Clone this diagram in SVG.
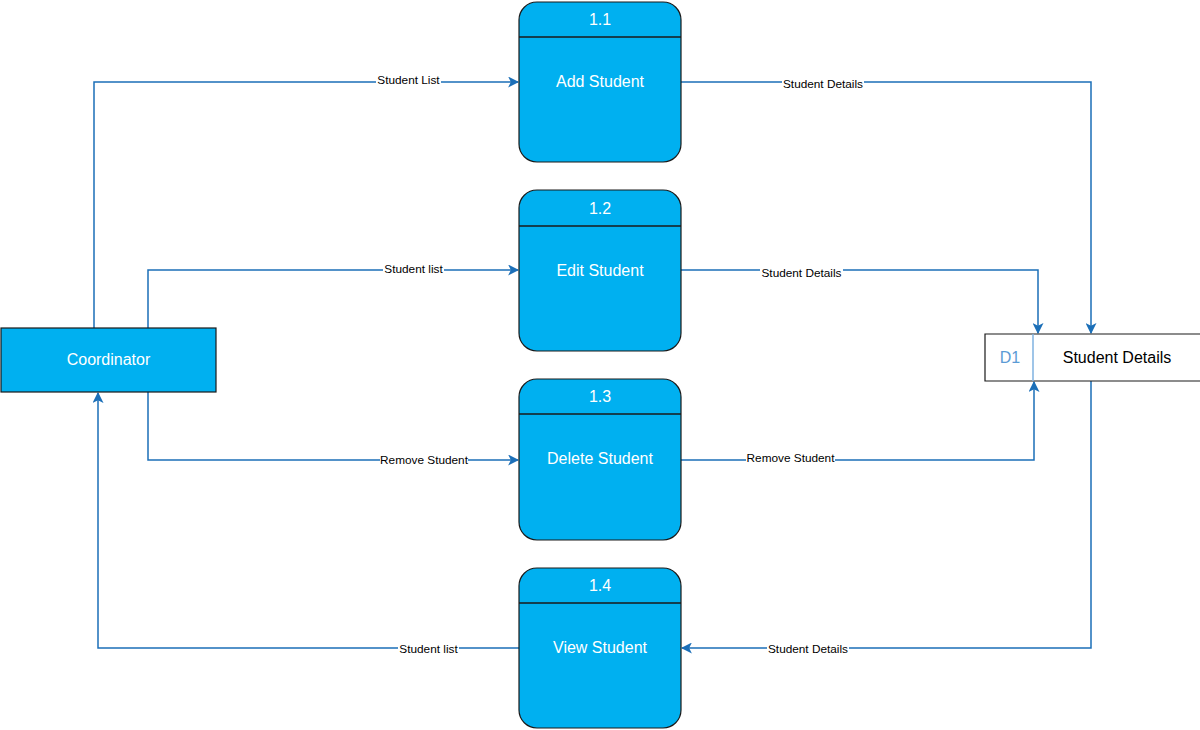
<svg xmlns="http://www.w3.org/2000/svg" width="1200" height="730" viewBox="0 0 1200 730">
<defs>
<marker id="arr" viewBox="0 0 10 10" refX="9" refY="5" markerWidth="11" markerHeight="11" markerUnits="userSpaceOnUse" orient="auto">
<path d="M0,0 L10,5 L0,10 L2.5,5 Z" fill="#1b6fb8"/>
</marker>
<style>
.proc{fill:#00b0f0;stroke:#1a1a1a;stroke-width:1.2}
.hdr{stroke:#1a1a1a;stroke-width:1.5}
.wt{font-family:"Liberation Sans",Arial,sans-serif;font-size:16px;fill:#ffffff;text-anchor:middle}
.conn{fill:none;stroke:#1b6fb8;stroke-width:1.5}
.lbl{font-family:"Liberation Sans",Arial,sans-serif;font-size:11.8px;fill:#000;text-anchor:middle}
.lblbg{fill:#ffffff}
</style>
</defs>
<rect width="1200" height="730" fill="#ffffff"/>
<g id="connectors">
<path class="conn" d="M94,328 V82 H518" marker-end="url(#arr)"/>
<path class="conn" d="M148,328 V270 H518" marker-end="url(#arr)"/>
<path class="conn" d="M148,392 V460 H518" marker-end="url(#arr)"/>
<path class="conn" d="M519,648 H98 V393" marker-end="url(#arr)"/>
<path class="conn" d="M681,82 H1091 V333" marker-end="url(#arr)"/>
<path class="conn" d="M681,270 H1038 V333" marker-end="url(#arr)"/>
<path class="conn" d="M681,460 H1034 V382" marker-end="url(#arr)"/>
<path class="conn" d="M1091,381 V648 H682" marker-end="url(#arr)"/>
<g id="labels">
<rect class="lblbg" x="376" y="74" width="65" height="12"/>
<text class="lbl" x="408.5" y="84">Student List</text>
<rect class="lblbg" x="383" y="264" width="61" height="12"/>
<text class="lbl" x="413.5" y="273">Student list</text>
<rect class="lblbg" x="380" y="454" width="88" height="12"/>
<text class="lbl" x="424" y="464">Remove Student</text>
<rect class="lblbg" x="398" y="643" width="61" height="12"/>
<text class="lbl" x="428.5" y="653">Student list</text>
<rect class="lblbg" x="782" y="78" width="82" height="12"/>
<text class="lbl" x="823" y="88">Student Details</text>
<rect class="lblbg" x="760" y="267" width="83" height="12"/>
<text class="lbl" x="801.5" y="277">Student Details</text>
<rect class="lblbg" x="746" y="452" width="89" height="12"/>
<text class="lbl" x="790.5" y="462">Remove Student</text>
<rect class="lblbg" x="767" y="643" width="82" height="12"/>
<text class="lbl" x="808" y="653">Student Details</text>
</g>
</g>
<g id="coordinator">
<rect x="1" y="328" width="215" height="64" fill="#00b0f0" stroke="#1a1a1a" stroke-width="1.2"/>
<text class="wt" x="108.5" y="365">Coordinator</text>
</g>
<g id="p1_1">
<rect class="proc" x="519" y="2" width="162" height="160" rx="18" ry="18"/>
<line class="hdr" x1="519" y1="37" x2="681" y2="37"/>
<text class="wt" x="600" y="25">1.1</text>
<text class="wt" x="600" y="87">Add Student</text>
</g>
<g id="p1_2">
<rect class="proc" x="519" y="190" width="162" height="161" rx="18" ry="18"/>
<line class="hdr" x1="519" y1="226" x2="681" y2="226"/>
<text class="wt" x="600" y="214">1.2</text>
<text class="wt" x="600" y="276">Edit Student</text>
</g>
<g id="p1_3">
<rect class="proc" x="519" y="379" width="162" height="161" rx="18" ry="18"/>
<line class="hdr" x1="519" y1="414" x2="681" y2="414"/>
<text class="wt" x="600" y="402">1.3</text>
<text class="wt" x="600" y="464">Delete Student</text>
</g>
<g id="p1_4">
<rect class="proc" x="519" y="568" width="162" height="160" rx="18" ry="18"/>
<line class="hdr" x1="519" y1="603" x2="681" y2="603"/>
<text class="wt" x="600" y="591">1.4</text>
<text class="wt" x="600" y="653">View Student</text>
</g>
<g id="d1">
<rect x="985" y="334" width="215" height="47" fill="#ffffff"/>
<path d="M1200,334 H985 V381 H1200" fill="none" stroke="#1a1a1a" stroke-width="1.2"/>
<line x1="1033" y1="334" x2="1033" y2="381" stroke="#7fb2e0" stroke-width="1.5"/>
<text x="1010" y="363" font-family="Liberation Sans,Arial,sans-serif" font-size="16" fill="#5b9bd5" text-anchor="middle">D1</text>
<text x="1117" y="363" font-family="Liberation Sans,Arial,sans-serif" font-size="16" fill="#000" text-anchor="middle">Student Details</text>
</g>
</svg>
